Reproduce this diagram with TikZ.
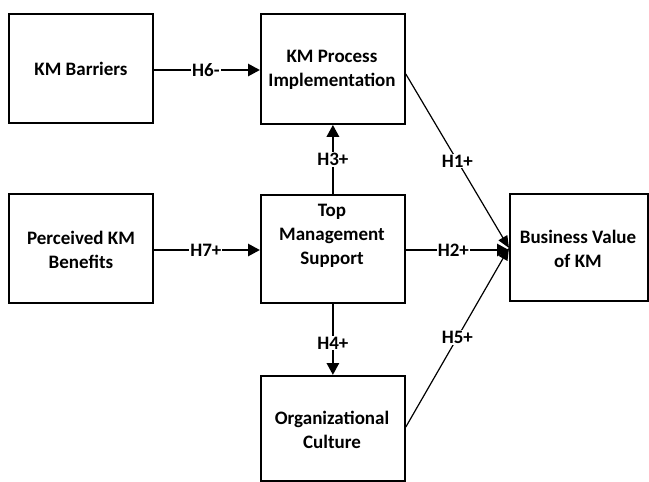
\documentclass[tikz,border=0pt]{standalone}
\usepackage{fontspec}
\setmainfont{Carlito}
\usetikzlibrary{arrows.meta}
\begin{document}
\begin{tikzpicture}[x=1pt,y=-1pt,
  box/.style={draw=black,line width=1.8pt,minimum width=144pt,anchor=north west,inner sep=0pt},
  txt/.style={align=center,font=\fontsize{19}{24}\selectfont\bfseries},
  lab/.style={fill=white,inner sep=1pt,font=\fontsize{19}{24}\selectfont\bfseries},
  thickarr/.style={line width=2.8pt,-{Triangle[length=12pt,width=12pt]}},
  thinarr/.style={line width=1.2pt,-{Triangle[length=12pt,width=10pt]}}]
\useasboundingbox (0,0) rectangle (649,482);
% boxes
\node[box,minimum height=109pt] (kmb) at (8,13) {};
\node[box,minimum height=110pt] (kmp) at (260,13) {};
\node[box,minimum height=109pt] (pkb) at (8,193) {};
\node[box,minimum height=108pt] (tms) at (260,194) {};
\node[box,minimum height=107pt,minimum width=138pt] (bv) at (509,193) {};
\node[box,minimum height=105pt] (oc) at (260,375) {};
% texts
\node[txt] (t1) at (81,69) {KM Barriers};
\node[txt] (t2) at (332,70) {KM Process\\Implementation};
\node[txt] (t3) at (81,250) {Perceived KM\\Benefits};
\node[txt] (t4) at (332,236) {Top\\Management\\Support};
\node[txt] (t5) at (578,249) {Business Value\\of KM};
\node[txt] (t6) at (332,430) {Organizational\\Culture};
% connectors
\coordinate (bvin) at (509,248);
\draw[thickarr] (kmb.east |- 0,70) -- (kmp.west |- 0,70) node[lab,midway,xshift=-1pt] {H6-};
\draw[thickarr] (pkb.east |- 0,250) -- (tms.west |- 0,250) node[lab,midway,xshift=-1pt] {H7+};
\draw[thickarr] (tms.north) -- (kmp.south) node[lab,midway] {H3+};
\draw[thickarr] (tms.south) -- (oc.north) node[lab,pos=0.55] {H4+};
\draw[thickarr] (tms.east |- 0,250) -- (bvin |- 0,250) node[lab,midway,xshift=-4pt] {H2+};
\draw[thinarr] (kmp.east |- 0,74) -- (bvin) node[lab,pos=0.5] {H1+};
\draw[thinarr] (oc.east |- 0,427) -- (bvin) node[lab,pos=0.5] {H5+};
\end{tikzpicture}
\end{document}
